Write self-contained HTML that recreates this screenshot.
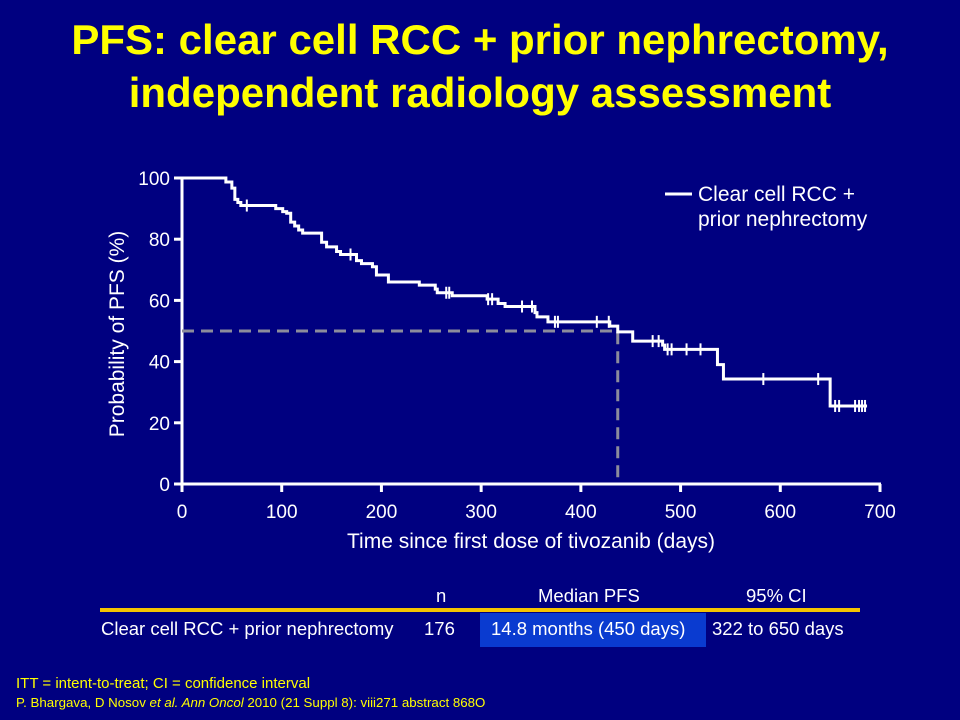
<!DOCTYPE html>
<html><head><meta charset="utf-8"><style>
body{margin:0;background:#000080;width:960px;height:720px;overflow:hidden;font-family:"Liberation Sans",sans-serif;}
#title{position:absolute;left:0;width:960px;top:13px;text-align:center;color:#ffff00;font-weight:bold;font-size:42px;line-height:53px;}
svg{position:absolute;left:0;top:0}
.t{position:absolute;color:#fff;font-size:18.5px;}
.f{position:absolute;color:#ffff00;font-size:13px;}
</style></head><body>
<div id="title">PFS: clear cell RCC + prior nephrectomy,<br>independent radiology assessment</div>
<svg width="960" height="720">
<g id="axes"></g><g id="curve"></g>
<rect x="100" y="608" width="760" height="4" fill="#f5c400"/>
<rect x="480" y="613" width="226" height="34" fill="#0a3bd0"/>
</svg>
<div class="t" style="left:436px;top:585px">n</div>
<div class="t" style="left:538px;top:585px">Median PFS</div>
<div class="t" style="left:746px;top:585px">95% CI</div>
<div class="t" style="left:101px;top:618px">Clear cell RCC + prior nephrectomy</div>
<div class="t" style="left:424px;top:618px">176</div>
<div class="t" style="left:491px;top:618px">14.8 months (450 days)</div>
<div class="t" style="left:712px;top:618px">322 to 650 days</div>
<div class="f" style="left:16px;top:675px;font-size:15px">ITT = intent-to-treat; CI = confidence interval</div>
<div class="f" style="left:16px;top:695px;font-size:13.3px">P. Bhargava, D Nosov <i>et al. Ann Oncol</i> 2010 (21 Suppl 8): viii271 abstract 868O</div>
<script>
const xTicks=[0,100,200,300,400,500,600,700];
const yTicks=[0,20,40,60,80,100];
const stepDays=[0,44,50,53,56,59,94,101,105,109,113,117,121,140,145,155,159,175,180,191,195,207,238,254,256,271,306,317,324,354,356,367,429,437,452,482,484,537,543,650,687];
const stepSurv=[100,98.7,96.7,93,92,91,90,89,88.5,85.6,84.3,83,82,79,77.5,76,75,73,72,71,68.3,66,65,63.7,62.5,61.5,60.4,59,58,56,54.6,53,51.6,49.7,46.7,45.4,44,39,34.3,25.5,25.5];
const censorDays=[65,169,265,268,307,311,341,351,374,377,416,428,472,478,487,491,506,520,583,638,655,659,675,679,682,685];
const medianDay=437, medianSurv=50;
const X=d=>182+d*(698/700), Y=p=>484-p*3.06;
const NS="http://www.w3.org/2000/svg";
function mk(tag,attrs,parent){const e=document.createElementNS(NS,tag);for(const k in attrs)e.setAttribute(k,attrs[k]);parent.appendChild(e);return e;}
const ax=document.getElementById('axes'), cv=document.getElementById('curve');
let e=mk('line',{x1:X(0),y1:Y(100)-1,x2:X(0),y2:Y(0)+8,stroke:'#fff','stroke-width':3},ax);


e=mk('line',{x1:X(0)-8,y1:Y(0),x2:X(700)+1,y2:Y(0),stroke:'#fff','stroke-width':3},ax);


xTicks.forEach(t=>{mk('line',{x1:X(t),y1:Y(0),x2:X(t),y2:Y(0)+8,stroke:'#fff','stroke-width':3},ax);
 const l=mk('text',{x:X(t),y:Y(0)+34,fill:'#fff','font-size':19,'text-anchor':'middle','font-family':'Liberation Sans'},ax);l.textContent=t;
 
 });
yTicks.forEach(t=>{mk('line',{x1:X(0)-8,y1:Y(t),x2:X(0),y2:Y(t),stroke:'#fff','stroke-width':3},ax);
 const l=mk('text',{x:X(0)-12,y:Y(t)+7,fill:'#fff','font-size':19,'text-anchor':'end','font-family':'Liberation Sans'},ax);l.textContent=t;
 
 });
let tt=mk('text',{x:531,y:548,fill:'#fff','font-size':21,'text-anchor':'middle','font-family':'Liberation Sans'},ax);tt.textContent='Time since first dose of tivozanib (days)';


tt=mk('text',{x:0,y:0,fill:'#fff','font-size':21,'text-anchor':'middle','font-family':'Liberation Sans',transform:'translate(124,334) rotate(-90)'},ax);tt.textContent='Probability of PFS (%)';


e=mk('path',{d:`M${X(0)} ${Y(medianSurv)}H${X(medianDay)}V${Y(0)}`,fill:'none',stroke:'#8c8c9c','stroke-width':3,'stroke-dasharray':'12 7'},cv);


function survAt(d){let s=100;for(let i=0;i<stepDays.length;i++){if(stepDays[i]<=d)s=stepSurv[i];}return s;}
let d=`M${X(stepDays[0])} ${Y(stepSurv[0])}`;
for(let i=1;i<stepDays.length;i++){d+=`H${X(stepDays[i])}V${Y(stepSurv[i])}`;}
e=mk('path',{d:d,fill:'none',stroke:'#fff','stroke-width':3},cv);


censorDays.forEach(c=>{const y=Y(survAt(c));const m=mk('line',{x1:X(c),y1:y-6,x2:X(c),y2:y+6,stroke:'#fff','stroke-width':2},cv);
 
 });
e=mk('line',{x1:665,y1:194,x2:692,y2:194,stroke:'#fff','stroke-width':3},cv);


tt=mk('text',{x:698,y:201,fill:'#fff','font-size':21,'font-family':'Liberation Sans'},cv);tt.textContent='Clear cell RCC +';


tt=mk('text',{x:698,y:226,fill:'#fff','font-size':21,'font-family':'Liberation Sans'},cv);tt.textContent='prior nephrectomy';


</script>
</body></html>
